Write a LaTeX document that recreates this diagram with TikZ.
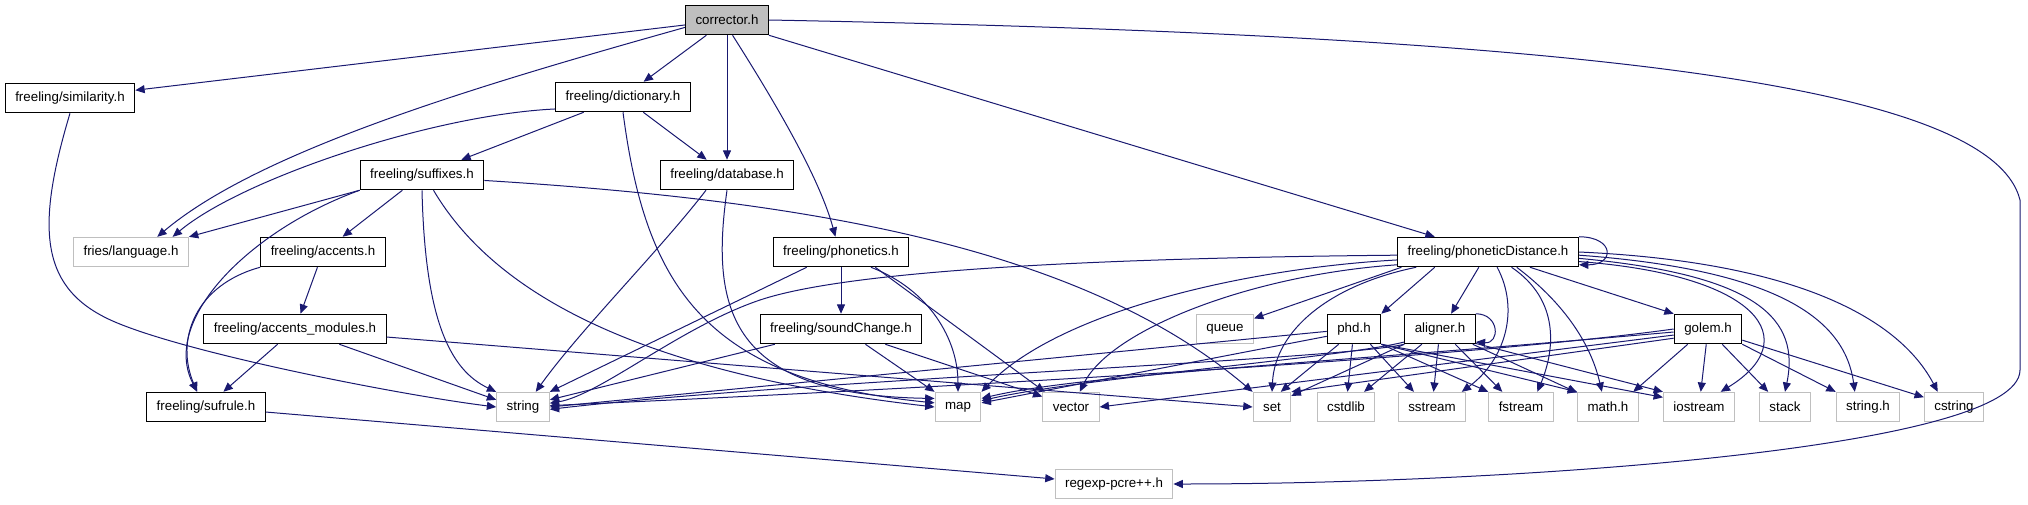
\documentclass[tikz,border=0pt]{standalone}
\usepackage{fontspec}
\setmainfont{Liberation Sans}
\usepackage{xcolor}
\usepackage{tikz}
\usetikzlibrary{arrows.meta}
\definecolor{edgeblue}{HTML}{191970}
\definecolor{boxgray}{HTML}{BFBFBF}

\begin{document}
\begin{tikzpicture}[x=0.75pt,y=-0.75pt,hdr/.style={draw=black,line width=0.9pt,fill=white,minimum height=22pt,inner xsep=7.5pt,inner ysep=0pt,font=\fontsize{10pt}{12pt}\selectfont},sys/.style={hdr,draw=boxgray,line width=0.75pt},arrow/.style={-{Triangle[length=7pt,width=6pt]},draw=edgeblue,line width=0.75pt}]
\useasboundingbox (0,0) rectangle (2028,504);
\node[hdr,fill=boxgray] (cor) at (727,20) {corrector.h};
\node[hdr] (sim) at (70,98) {freeling/similarity.h};
\node[hdr] (dict) at (623,97) {freeling/dictionary.h};
\node[hdr] (suf) at (422,175) {freeling/suffixes.h};
\node[hdr] (db) at (727,175) {freeling/database.h};
\node[sys] (lang) at (131,252) {fries/language.h};
\node[hdr] (acc) at (323,252) {freeling/accents.h};
\node[hdr] (phon) at (841,252) {freeling/phonetics.h};
\node[hdr] (pd) at (1488,252) {freeling/phoneticDistance.h};
\node[hdr] (accm) at (295,329) {freeling/accents\_modules.h};
\node[hdr] (snd) at (841,329) {freeling/soundChange.h};
\node[sys] (queue) at (1225,329) {queue};
\node[hdr] (phd) at (1354,329) {phd.h};
\node[hdr] (ali) at (1440,329) {aligner.h};
\node[hdr] (golem) at (1708,329) {golem.h};
\node[hdr] (sufr) at (206,407) {freeling/sufrule.h};
\node[sys] (str) at (523,407) {string};
\node[sys] (map) at (958,407) {map};
\node[sys] (vec) at (1071,407) {vector};
\node[sys] (set) at (1272,407) {set};
\node[sys] (cstd) at (1346,407) {cstdlib};
\node[sys] (sst) at (1432,407) {sstream};
\node[sys] (fst) at (1521,407) {fstream};
\node[sys] (math) at (1608,407) {math.h};
\node[sys] (ios) at (1699,407) {iostream};
\node[sys] (stack) at (1785,407) {stack};
\node[sys] (strh) at (1868,407) {string.h};
\node[sys] (cstr) at (1954,407) {cstring};
\node[sys] (rx) at (1114,484) {regexp-pcre++.h};
\draw[arrow] (cor) -- (sim); \draw[arrow] (cor) -- (dict); \draw[arrow] (cor) -- (db); \draw[arrow] (cor.-20) -- (pd.164);
\draw[arrow] (cor.190) .. controls (480,85) and (260,150) .. (lang.30);
\draw[arrow] (cor.-70) .. controls (780,110) and (820,180) .. (phon.110);
\draw[arrow] (cor.east) .. controls (1550,35) and (1990,80) .. (2020,200) -- (2020,370) .. controls (2020,450) and (1500,484) .. (rx.east);
\draw[arrow] (sim.south) .. controls (35,230) and (40,290) .. (115,322) .. controls (190,354) and (400,395) .. (str.west);
\draw[arrow] (dict.190) .. controls (430,115) and (240,180) .. (lang.20);
\draw[arrow] (dict) -- (suf); \draw[arrow] (dict) -- (db);
\draw[arrow] (dict.south) .. controls (645,280) and (700,380) .. (map.170);
\draw[arrow] (db.-144) .. controls (660,250) and (580,330) .. (str.50);
\draw[arrow] (db.south) .. controls (710,310) and (730,395) .. (map.160);
\draw[arrow] (suf.south west) -- (lang.north east); \draw[arrow] (suf) -- (acc);
\draw[arrow] (suf.south west) .. controls (250,230) and (160,320) .. (sufr.120);
\draw[arrow] (suf.south) .. controls (425,320) and (450,370) .. (str.north west);
\draw[arrow] (suf.-53) .. controls (510,320) and (700,380) .. (map.west);
\draw[arrow] (suf.-5) .. controls (800,200) and (1080,245) .. (set.north west);
\draw[arrow] (acc.south west) .. controls (195,285) and (175,340) .. (sufr.120);
\draw[arrow] (acc) -- (accm); \draw[arrow] (accm) -- (sufr); \draw[arrow] (accm.-19) -- (str.165); \draw[arrow] (accm.-5) -- (set.west);
\draw[arrow] (sufr) -- (rx);
\draw[arrow] (phon.-156) -- (str.north east); \draw[arrow] (phon) -- (snd); \draw[arrow] (phon.-24) -- (vec.150);
\draw[arrow] (phon.-27) .. controls (930,290) and (958,340) .. (map.north);
\draw[arrow] (snd.-167) -- (str.15); \draw[arrow] (snd.-32) -- (map.north west); \draw[arrow] (snd.-19) -- (vec.160);
\draw[arrow] (pd.north east) .. controls (1615,237) and (1615,265) .. (pd.-8);
\draw[arrow] (pd.-178) .. controls (1100,258) and (850,270) .. (760,300) .. controls (680,327) and (600,395) .. (str.8);
\draw[arrow] (pd.-175) .. controls (1250,268) and (1060,310) .. (map.north east);
\draw[arrow] (pd.-172) .. controls (1250,275) and (1110,330) .. (vec.60);
\draw[arrow] (pd.-170) -- (queue.20); \draw[arrow] (pd.-164) -- (phd.north east); \draw[arrow] (pd.-121) -- (ali.54); \draw[arrow] (pd.-20) -- (golem.north west);
\draw[arrow] (pd.-168) .. controls (1330,285) and (1275,330) .. (set.north);
\draw[arrow] (pd.-59) .. controls (1520,310) and (1505,360) .. (sst.27);
\draw[arrow] (pd.-33) .. controls (1560,300) and (1555,350) .. (fst.43);
\draw[arrow] (pd.-28) .. controls (1560,300) and (1590,340) .. (math.112);
\draw[arrow] (pd.-6) .. controls (1760,275) and (1805,340) .. (ios.35);
\draw[arrow] (pd.-4) .. controls (1760,275) and (1800,320) .. (stack.north);
\draw[arrow] (pd.-2) .. controls (1780,270) and (1845,320) .. (strh.131);
\draw[arrow] (pd.east) .. controls (1800,262) and (1900,320) .. (cstr.137);
\draw[arrow] (phd.-175) -- (str.east); \draw[arrow] (phd.-165) -- (map.10); \draw[arrow] (phd.-135) -- (set.60); \draw[arrow] (phd) -- (cstd);
\draw[arrow] (phd.-43) -- (sst.140); \draw[arrow] (phd.south east) -- (fst.north west); \draw[arrow] (phd.south east) -- (math.north west); \draw[arrow] (phd.south east) -- (ios.165);
\draw[arrow] (ali.north east) .. controls (1500,314) and (1500,344) .. (ali.-20);
\draw[arrow] (ali.south west) .. controls (1340,360) and (800,380) .. (str.-5);
\draw[arrow] (ali.-160) .. controls (1340,358) and (1080,378) .. (map.15);
\draw[arrow] (ali.south west) -- (set.30); \draw[arrow] (ali.-140) -- (cstd.40); \draw[arrow] (ali) -- (sst);
\draw[arrow] (ali.-45) -- (fst.141); \draw[arrow] (ali.-25) -- (math.155); \draw[arrow] (ali.-22) -- (ios.north west);
\draw[arrow] (golem.180) .. controls (1450,360) and (900,390) .. (str.3);
\draw[arrow] (golem.-175) .. controls (1300,365) and (1080,375) .. (map.20);
\draw[arrow] (golem.-170) -- (vec.east); \draw[arrow] (golem.-165) -- (set.north east);
\draw[arrow] (golem.-143) -- (math.31); \draw[arrow] (golem) -- (ios); \draw[arrow] (golem.-47) -- (stack.138);
\draw[arrow] (golem.south east) -- (strh.north west); \draw[arrow] (golem.-18) -- (cstr.162);
\end{tikzpicture}
\end{document}
